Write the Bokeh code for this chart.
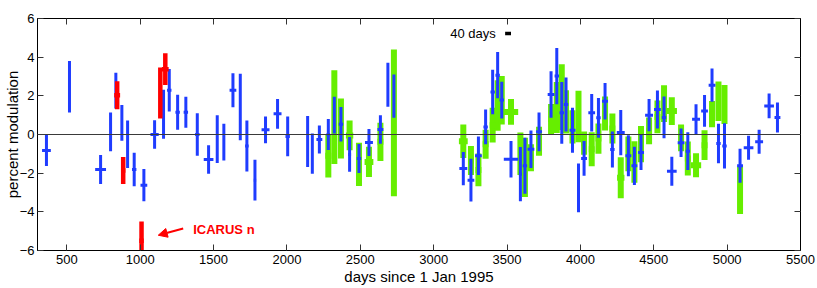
from bokeh.plotting import figure
from bokeh.models import (ColumnDataSource, LinearAxis, Range1d, Span, Label,
                          Arrow, NormalHead, FixedTicker)
from bokeh.embed import file_html
from bokeh.resources import INLINE

# ---------------- data ----------------
blue_day = [361, 518, 730, 798, 834, 875, 914, 959, 1025, 1098, 1159, 1198, 1255, 1311,
            1389, 1466, 1525, 1570, 1632, 1682, 1727, 1782, 1854, 1936, 2005, 2141, 2173,
            2221, 2282, 2323, 2368, 2427, 2491, 2559, 2637, 2688, 2729, 3202, 3254, 3305,
            3354, 3402, 3436, 3464, 3527, 3591, 3622, 3663, 3718, 3800, 3839, 3873, 3902,
            3946, 3987, 4025, 4077, 4123, 4168, 4218, 4275, 4327, 4368, 4413, 4468, 4525,
            4570, 4623, 4686, 4732, 4788, 4846, 4897, 4941, 4982, 5088, 5146, 5218, 5286,
            5343]
blue_halfwidth = [30, 0, 37, 0, 0, 0, 0, 15, 23, 28, 0, 15, 15, 15,
                  15, 33, 0, 0, 23, 0, 12, 8, 27, 27, 15, 0, 0,
                  20, 12, 0, 15, 10, 15, 27, 20, 0, 0, 27, 23, 23,
                  15, 15, 15, 15, 49, 10, 15, 23, 20, 23, 15, 15, 15,
                  20, 10, 20, 23, 15, 20, 15, 27, 20, 20, 20, 27, 23,
                  15, 33, 23, 15, 27, 23, 23, 15, 15, 20, 33, 27, 33,
                  20]
blue_val = [-0.83, 2.47, -1.81, 0.14, 2.27, 0.6, -0.5, -1.81, -2.62, 0.0, 1.05, 2.29, 1.15, 1.15,
            0.0, -1.29, -0.24, -0.4, 2.29, 1.42, -0.6, -2.36, 0.24, 1.07, -0.1, -0.36, -0.99,
            -0.26, 0.0, 1.0, 0.53, -1.03, -1.24, -0.41, 0.26, 2.57, 1.98, -1.76, -2.36, -1.1,
            0.39, 2.2, 3.07, 1.78, -1.28, -2.05, -1.62, -0.76, 0.14, 2.07, 3.02, 1.12, 1.55,
            0.22, -2.76, -1.24, 1.12, 0.86, 1.72, -0.78, 0.1, -1.1, -1.62, -0.93, 1.0, 1.29,
            0.88, -1.9, -0.43, -0.86, 0.79, 1.22, 2.55, -0.47, -0.59, -1.62, -0.69, -0.38, 1.48,
            0.88]
blue_err = [0.8, 1.33, 0.75, 1.0, 0.93, 0.92, 1.23, 0.87, 0.83, 0.74, 1.27, 1.1, 0.9, 0.8,
            1.1, 0.74, 1.24, 0.95, 0.88, 1.72, 1.32, 1.06, 0.69, 0.77, 1.03, 1.32, 1.04,
            0.72, 0.8, 0.95, 0.89, 0.9, 0.75, 0.7, 0.74, 1.14, 1.12, 0.86, 1.1, 1.0,
            0.9, 1.15, 1.2, 0.95, 0.95, 1.4, 1.45, 0.97, 1.0, 1.2, 1.45, 1.6, 1.4,
            1.17, 1.26, 0.9, 0.97, 1.03, 0.94, 0.93, 1.17, 1.06, 0.99, 0.9, 0.83, 0.98,
            1.08, 0.75, 0.74, 0.98, 0.77, 0.82, 0.86, 1.02, 1.17, 0.88, 0.62, 0.62, 0.64,
            0.78]

green_day = [2282, 2323, 2368, 2427, 2491, 2559, 2637, 2729, 3202, 3254, 3305, 3354, 3402,
             3436, 3464, 3527, 3591, 3622, 3663, 3718, 3800, 3839, 3873, 3902, 3946, 3987,
             4025, 4077, 4123, 4168, 4218, 4275, 4327, 4368, 4413, 4468, 4525, 4570, 4623,
             4686, 4732, 4788, 4846, 4897, 4941, 4982, 5088]
green_halfwidth = [20, 0, 0, 25, 15, 30, 20, 0, 30, 20, 20, 20, 20,
                   0, 0, 49, 0, 0, 20, 20, 20, 0, 0, 0, 0, 0,
                   20, 20, 20, 20, 20, 25, 0, 0, 20, 20, 20, 0, 35,
                   20, 20, 35, 20, 20, 0, 0, 15]
green_val = [-1.1, 0.9, 0.31, -0.05, -1.55, -1.42, -0.38, 0.6, -0.35, -1.35, -1.83, -0.5, 0.48,
             1.5, 1.77, 1.17, -1.0, -1.7, -1.2, -0.35, 0.8, 1.4, 1.93, 1.17, 0.4, 0.93,
             -0.45, -0.76, -0.21, 1.09, 0.31, -2.24, -1.0, -1.42, -0.5, 0.19, 0.91, 1.6, 1.21,
             -0.17, -1.24, -1.59, -0.55, 1.05, 1.72, 1.55, -2.88]
green_err = [1.12, 2.42, 1.55, 0.77, 1.12, 0.78, 0.99, 3.8, 0.87, 0.75, 0.85, 0.75, 0.9,
             1.3, 1.25, 0.66, 1.1, 1.53, 0.7, 0.75, 0.78, 1.32, 1.7, 1.12, 0.86, 1.33,
             0.6, 0.88, 0.78, 0.88, 0.78, 1.06, 0.9, 1.07, 0.94, 0.69, 0.85, 0.95, 0.72,
             0.69, 0.88, 0.62, 0.77, 0.68, 1.02, 1.01, 1.23]

red_day = [843, 884, 1009, 1137, 1171]
red_halfwidth = [20, 15, 15, 0, 23]
red_val = [2.03, -1.86, -5.5, 2.15, 3.38]
red_err = [0.73, 0.7, 1.0, 1.32, 0.82]

x_ticks = [500, 1000, 1500, 2000, 2500, 3000, 3500, 4000, 4500, 5000, 5500]
y_ticks = [-6, -4, -2, 0, 2, 4, 6]
y_tick_labels = ["\u22126", "\u22124", "\u22122", "0", "2", "4", "6"]

x_title = "days since 1 Jan 1995"
y_title = "percent modulation"
scale_bar_center = 3507
scale_bar_days = 40
scale_bar_level = 5.22
scale_text = "40 days"
icarus_text = "ICARUS n"

FONT = "Liberation Sans"

p = figure(frame_width=763, frame_height=232, x_range=Range1d(300, 5500), y_range=Range1d(-6, 6),
           output_backend="svg", toolbar_location=None,
           min_border_left=36, min_border_right=16, min_border_top=18, min_border_bottom=36)
p.background_fill_color = "white"
p.border_fill_color = "white"
p.xgrid.visible = False
p.ygrid.visible = False
p.outline_line_color = "black"


def style_axis(ax, ticks, show_labels=True):
    ax.ticker = FixedTicker(ticks=ticks)
    ax.axis_line_color = "black"
    ax.axis_line_width = 1
    ax.major_tick_line_color = "#333333"
    ax.major_tick_in = 6
    ax.major_tick_out = 0
    ax.minor_tick_line_color = None
    ax.major_label_text_font = FONT
    ax.major_label_text_color = "black"
    ax.major_label_text_font_size = "13px"
    ax.major_label_text_line_height = 1.0
    ax.major_label_standoff = 4
    ax.axis_label_text_font = FONT
    ax.axis_label_text_font_size = "15px"
    ax.axis_label_text_font_style = "normal"
    ax.axis_label_text_color = "black"
    ax.axis_label_text_line_height = 1.0
    if not show_labels:
        ax.major_label_text_color = None
        ax.major_label_standoff = 0


xa = p.xaxis[0]
style_axis(xa, x_ticks)
xa.axis_label = x_title
xa.major_label_standoff = 4
xa.axis_label_standoff = 1

ya = p.yaxis[0]
style_axis(ya, y_ticks)
ya.major_label_overrides = {t: s for t, s in zip(y_ticks, y_tick_labels)}
ya.axis_label = y_title
ya.major_label_standoff = 3
ya.axis_label_standoff = -4

top_ax = LinearAxis()
style_axis(top_ax, x_ticks, show_labels=False)
p.add_layout(top_ax, "above")
right_ax = LinearAxis()
style_axis(right_ax, y_ticks, show_labels=False)
p.add_layout(right_ax, "right")

p.add_layout(Span(location=0, dimension="width", line_color="#3a3a3a", line_width=1.2))


def draw(day, hw, val, err, color, lw):
    src = ColumnDataSource(dict(
        x=day, y=val,
        x0=[d - h for d, h in zip(day, hw)], x1=[d + h for d, h in zip(day, hw)],
        y0=[v - e for v, e in zip(val, err)], y1=[v + e for v, e in zip(val, err)]))
    p.segment(x0="x", y0="y0", x1="x", y1="y1", source=src, line_color=color,
              line_width=lw, line_cap="butt")
    p.segment(x0="x0", y0="y", x1="x1", y1="y", source=src, line_color=color,
              line_width=lw, line_cap="butt")


draw(green_day, green_halfwidth, green_val, green_err, "#66ee00", 6)
draw(blue_day, blue_halfwidth, blue_val, blue_err, "#1f3cff", 3)
draw(red_day, red_halfwidth, red_val, red_err, "#ff0000", 4.5)

# scale bar "40 days"
p.segment(x0=[scale_bar_center - scale_bar_days / 2], x1=[scale_bar_center + scale_bar_days / 2],
          y0=[scale_bar_level], y1=[scale_bar_level], line_color="black", line_width=3.5,
          line_cap="butt")
p.add_layout(Label(x=3423, y=scale_bar_level, text=scale_text, text_align="right",
                   text_baseline="middle", text_font=FONT, text_font_size="13px",
                   text_color="black"))

# ICARUS annotation
p.add_layout(Label(x=1361, y=-4.91, text=icarus_text, text_align="left",
                   text_baseline="middle", text_font=FONT, text_font_size="13px",
                   text_font_style="bold", text_color="#ff0000"))
p.add_layout(Arrow(end=NormalHead(size=9, fill_color="#ff0000", line_color="#ff0000"),
                   x_start=1293, y_start=-4.86, x_end=1123, y_end=-5.21,
                   line_color="#ff0000", line_width=2))

open("out.html", "w").write(file_html(p, INLINE))
